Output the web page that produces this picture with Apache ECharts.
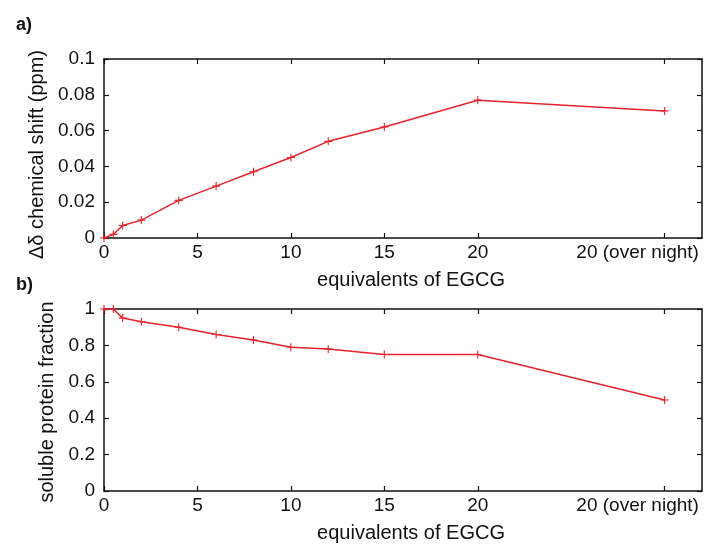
<!DOCTYPE html>
<html>
<head>
<meta charset="utf-8">
<script src="https://cdn.jsdelivr.net/npm/echarts@6/dist/echarts.min.js"></script>
<style>
  html, body { margin: 0; padding: 0; background: #fff; }
  #main { width: 704px; height: 544px; }
</style>
</head>
<body>
<div id="main"></div>
<script>
// equivalents of EGCG (30 = "20 (over night)")
var equivalents = [0, 0.5, 1, 2, 4, 6, 8, 10, 12, 15, 20, 30];
var chemShift = [0, 0.002, 0.007, 0.01, 0.021, 0.029, 0.037, 0.045, 0.054, 0.062, 0.077, 0.071];
var solubleFraction = [1, 1, 0.95, 0.93, 0.9, 0.86, 0.83, 0.79, 0.78, 0.75, 0.75, 0.5];
var xTickValues = [0, 5, 10, 15, 20, 30];
var xTickLabels = ['0', '5', '10', '15', '20', '20 (over night)'];

var font = 'Liberation Sans, Arial, sans-serif';
var red = '#e8232b';
var plus = 'path://M4.3,0H5.7V4.3H10V5.7H5.7V10H4.3V5.7H0V4.3H4.3Z';

function pairs(ys) {
    return equivalents.map(function (x, i) { return [x, ys[i]]; });
}

function xLabel(v) {
    var i = xTickValues.indexOf(v);
    if (i < 0) return '';
    // last label is pushed left so it stays inside the frame
    return i === xTickValues.length - 1 ? '{o|' + xTickLabels[i] + '}' : xTickLabels[i];
}

// one x axis at bottom (labelled), one mirror at top (ticks only)
function xAxes(gridIndex) {
    var base = {
        type: 'value', gridIndex: gridIndex, min: 0, max: 32,
        splitLine: { show: false },
        axisLine: { onZero: false, lineStyle: { color: '#111', width: 1.5 } },
        axisTick: { inside: true, length: 5, customValues: xTickValues, lineStyle: { color: '#111', width: 1.2 } }
    };
    return [
        Object.assign({}, base, {
            position: 'bottom',
            name: 'equivalents of EGCG', nameLocation: 'middle', nameGap: 32,
            nameTextStyle: { fontFamily: font, fontSize: 20, color: '#111', padding: [0, 0, 0, 16] },
            axisLabel: {
                customValues: xTickValues, formatter: xLabel,
                fontFamily: font, fontSize: 19, color: '#111', margin: 5,
                rich: { o: { fontFamily: font, fontSize: 19, color: '#111', padding: [0, 54, 0, 0] } }
            }
        }),
        Object.assign({}, base, { position: 'top', axisLabel: { show: false } })
    ];
}

function yAxes(gridIndex, max, interval, name, shift) {
    var base = {
        type: 'value', gridIndex: gridIndex, min: 0, max: max, interval: interval,
        splitLine: { show: false },
        axisLine: { show: true, onZero: false, lineStyle: { color: '#111', width: 1.5 } },
        axisTick: { show: true, inside: true, length: 5, lineStyle: { color: '#111', width: 1.2 } }
    };
    return [
        Object.assign({}, base, {
            position: 'left',
            name: name, nameLocation: 'middle', nameGap: 42,
            nameTextStyle: { fontFamily: font, fontSize: 20, color: '#111', padding: [0, shift, 0, 0] },
            axisLabel: { fontFamily: font, fontSize: 19, color: '#111', margin: 9 }
        }),
        Object.assign({}, base, { position: 'right', axisLabel: { show: false } })
    ];
}

var myChart = echarts.init(document.getElementById('main'));

var option = {
    animation: false,
    backgroundColor: '#fff',
    title: [
        { text: 'a)', left: 11, top: 11, textStyle: { fontFamily: font, fontSize: 18, fontWeight: 'bold', color: '#111' } },
        { text: 'b)', left: 11, top: 271, textStyle: { fontFamily: font, fontSize: 18, fontWeight: 'bold', color: '#111' } }
    ],
    grid: [
        { left: 104, right: 2, top: 59, height: 179, outerBoundsMode: 'none' },
        { left: 104, right: 2, top: 309, height: 182, outerBoundsMode: 'none' }
    ],
    xAxis: xAxes(0).concat(xAxes(1)),
    yAxis: yAxes(0, 0.1, 0.02, 'Δδ chemical shift (ppm)', 12).concat(yAxes(1, 1, 0.2, 'soluble protein fraction', 4)),
    series: [{
        type: 'line', xAxisIndex: 0, yAxisIndex: 0,
        data: pairs(chemShift),
        symbol: plus, symbolSize: 8,
        lineStyle: { color: red, width: 1.5 },
        itemStyle: { color: red }
    }, {
        type: 'line', xAxisIndex: 2, yAxisIndex: 2,
        data: pairs(solubleFraction),
        symbol: plus, symbolSize: 8,
        lineStyle: { color: red, width: 1.5 },
        itemStyle: { color: red }
    }]
};

myChart.setOption(option);
</script>
</body>
</html>
